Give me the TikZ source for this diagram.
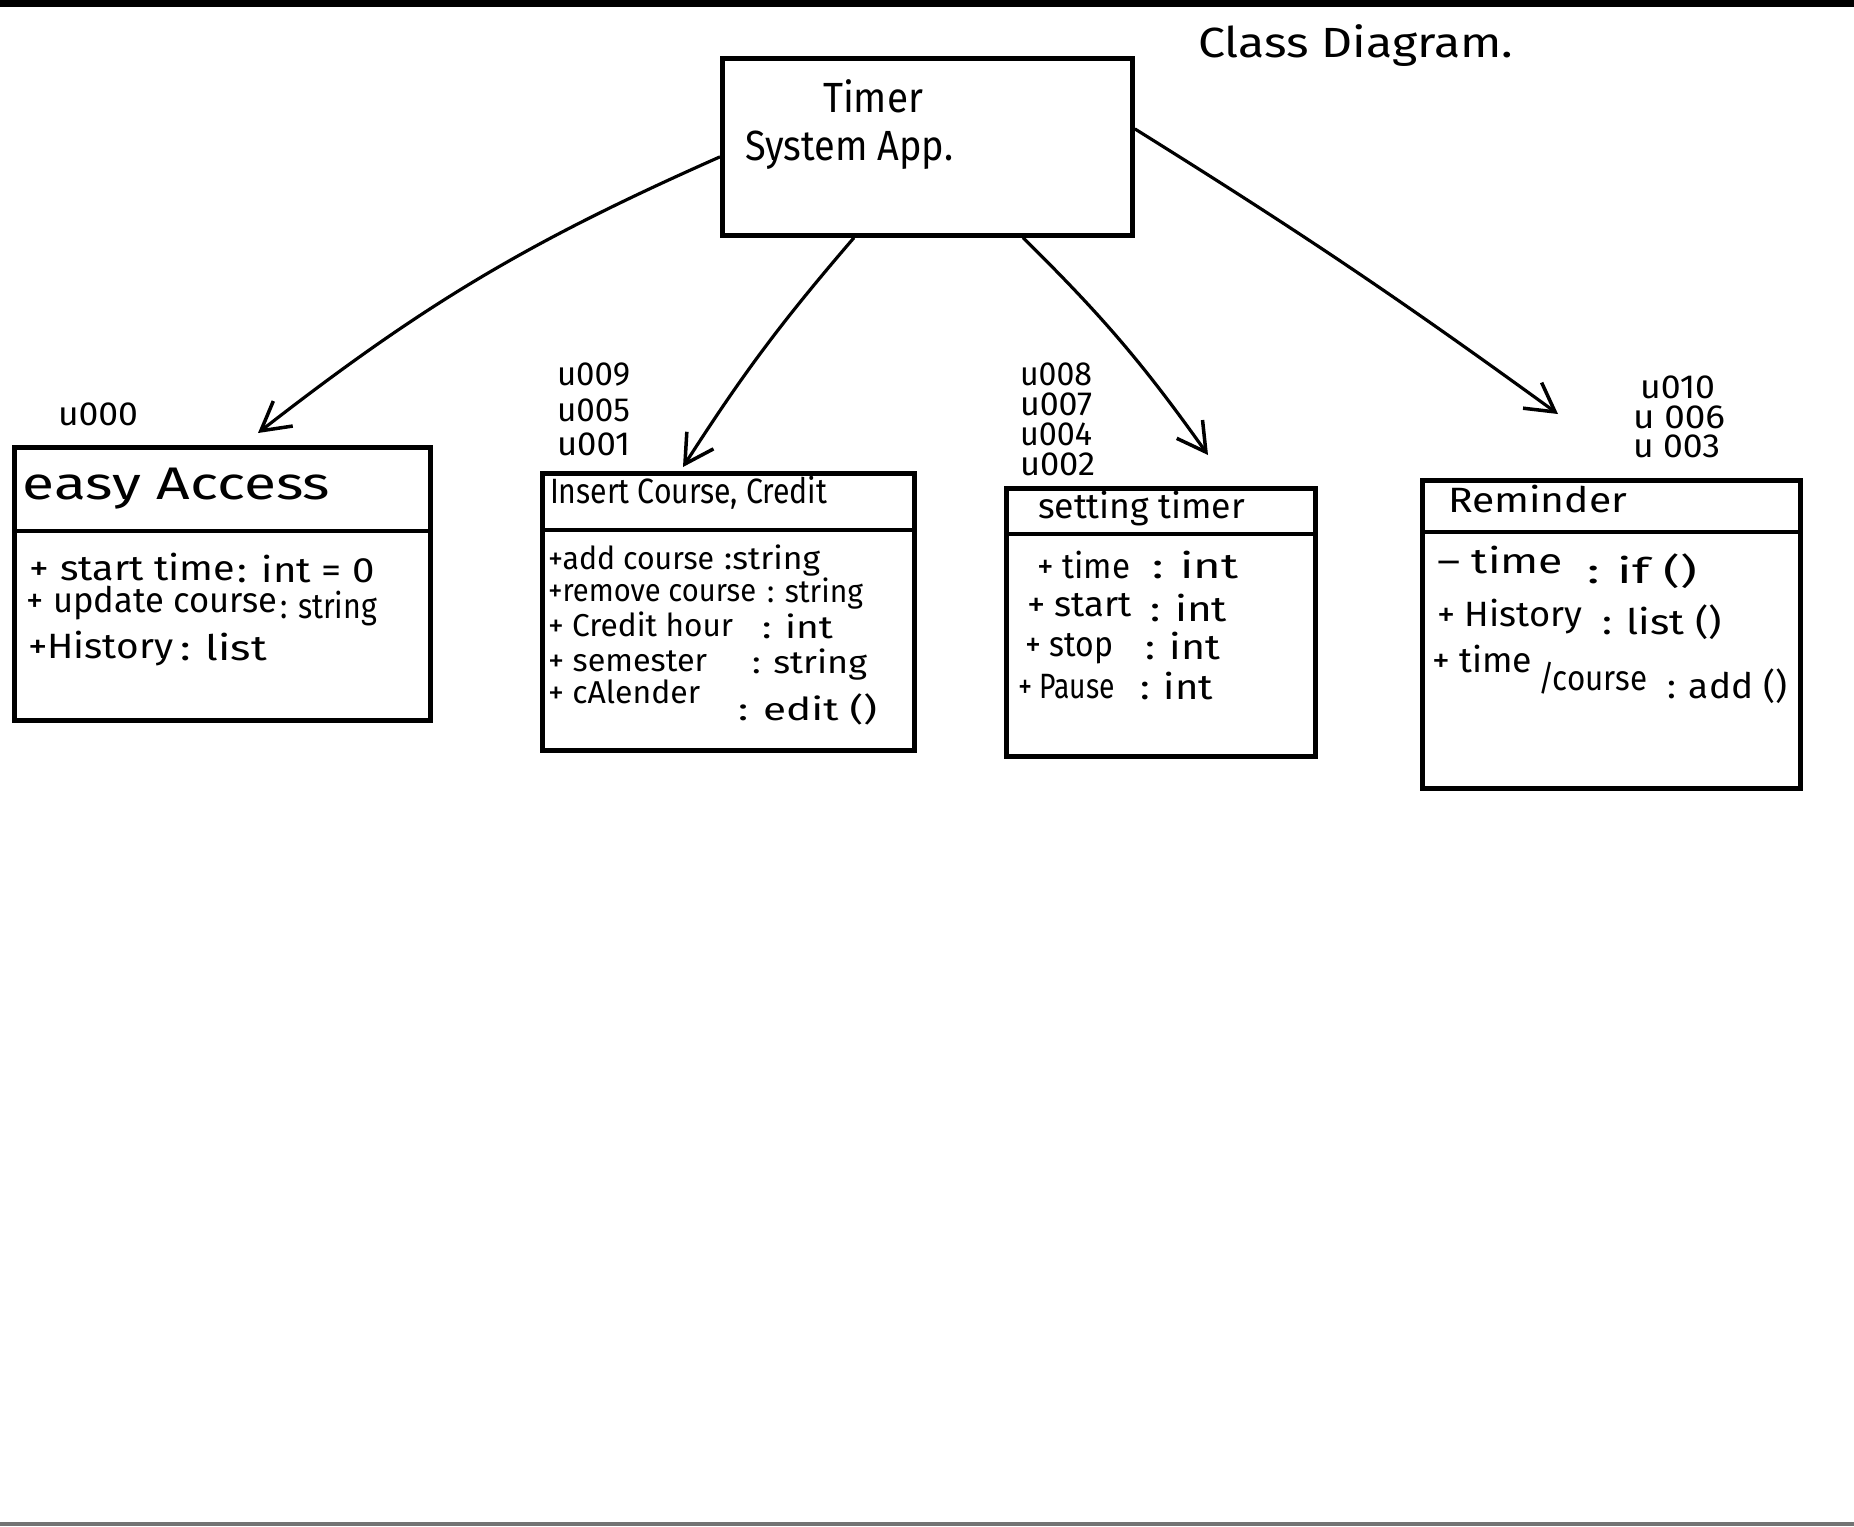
\documentclass[tikz,border=0pt]{standalone}
\usepackage{fontspec}
\usepackage{graphicx}
\setmainfont{Fira Sans}
\usetikzlibrary{arrows.meta,calc}

% set a text and stretch it horizontally to a given width (in px units of 0.01cm)
\newsavebox\fitbox
\newcommand\fitto[2]{%
  \sbox\fitbox{#2}%
  \pgfmathsetmacro\fitratio{#1*0.284528/\wd\fitbox}%
  \scalebox{\fitratio}[1]{\usebox\fitbox}}
% \putlbl[style]{name}{x}{baseline y}{width}{text}
\newcommand\putlbl[6][]{\node[txt,#1] (#2) at (#3,#4) {\fitto{#5}{#6}};}

\tikzset{
  txt/.style={inner sep=0pt, outer sep=0pt, anchor=base west},
  fbig/.style={font=\fontsize{12}{14}\selectfont},
  fmid/.style={font=\fontsize{10}{12}\selectfont},
  fsml/.style={font=\fontsize{9}{11}\selectfont},
  flbl/.style={font=\fontsize{9.5}{11}\selectfont},
  classbox/.style={draw, line width=1.3pt, inner sep=0pt, anchor=north west},
  divline/.style={line width=1.3pt},
  assoc/.style={line width=0.9pt, -{Straight Barb[length=8pt,width=9pt,line width=1pt]}}
}

\begin{document}
\begin{tikzpicture}[x=0.01cm, y=-0.01cm]
\useasboundingbox (0,0) rectangle (1854,1526);
\fill[white] (0,0) rectangle (1854,1526);
% paper edges of the scan
\fill[black] (0,0) rectangle (1854,7);
\fill[black!55] (0,1522) rectangle (1854,1526);

% ---------- class boxes ----------
\node[classbox, minimum width=4.10cm, minimum height=1.77cm] (timer)    at (720,56)  {};
\node[classbox, minimum width=4.16cm, minimum height=2.73cm] (easy)     at (12,445)  {};
\node[classbox, minimum width=3.72cm, minimum height=2.77cm] (insert)   at (540,471) {};
\node[classbox, minimum width=3.09cm, minimum height=2.68cm] (setting)  at (1004,486) {};
\node[classbox, minimum width=3.78cm, minimum height=3.08cm] (reminder) at (1420,478) {};

% compartment dividers
\draw[divline] ($(easy.north west)+(0,86)$) -- ($(easy.north east)+(0,86)$);
\draw[divline] ($(insert.north west)+(0,59)$) -- ($(insert.north east)+(0,59)$);
\draw[divline] ($(setting.north west)+(0,48)$) -- ($(setting.north east)+(0,48)$);
\draw[divline] ($(reminder.north west)+(0,54)$) -- ($(reminder.north east)+(0,54)$);

% ---------- associations ----------
\draw[assoc] ($(timer.west)+(0,10)$) to[bend right=7] ($(easy.north west)+(246,-12)$);
\draw[assoc] ($(timer.south west)+(134,0)$) to[bend right=4] ($(insert.north west)+(143,-4)$);
\draw[assoc] ($(timer.south west)+(303,0)$) to[bend left=5] ($(setting.north west)+(204,-31)$);
\draw[assoc] ($(timer.east)+(0,-18)$) to[bend left=2] ($(reminder.north west)+(138,-64)$);

% ---------- heading ----------
\putlbl[fbig]{heading}{1198}{57}{315}{Class Diagram.}

% ---------- main application ----------
\putlbl[fbig]{timerA}{823}{112}{100}{Timer}
\putlbl[fbig]{timerB}{745}{160}{208}{System App.}

% ---------- easy Access ----------
\putlbl[flbl]{idE}{58}{425}{80}{u000}
\putlbl[font=\fontsize{13}{15}\selectfont]{easyT}{23}{499}{307}{easy Access}
\putlbl[fmid]{easyA1}{30}{580}{205}{+ start time}
\putlbl[fmid]{easyA1t}{238}{582}{137}{: int = 0}
\putlbl[fmid]{easyA2}{27}{612}{250}{+ update course}
\putlbl[fmid]{easyA2t}{280}{618}{97}{: string}
\putlbl[fmid]{easyA3}{28}{658}{145}{+History}
\putlbl[fmid]{easyA3t}{180}{660}{87}{: list}

% ---------- Insert Course, Credit ----------
\putlbl[flbl]{idI1}{557}{385}{73}{u009}
\putlbl[flbl]{idI2}{557}{421}{73}{u005}
\putlbl[flbl]{idI3}{557}{455}{73}{u001}
\putlbl[fmid]{insT}{550}{503}{277}{Insert Course, Credit}
\putlbl[fsml]{insA1}{548}{569}{166}{+add course}
\putlbl[fsml]{insA1t}{724}{569}{96}{:string}
\putlbl[fsml]{insA2}{548}{601}{208}{+remove course}
\putlbl[fsml]{insA2t}{767}{602}{96}{: string}
\putlbl[fsml]{insA3}{548}{636}{185}{+ Credit hour}
\putlbl[fsml]{insA3t}{762}{638}{71}{: int}
\putlbl[fsml]{insA4}{548}{671}{159}{+ semester}
\putlbl[fsml]{insA4t}{752}{673}{115}{: string}
\putlbl[fsml]{insA5}{548}{703}{152}{+ cAlender}
\putlbl[fsml]{insA5t}{738}{720}{139}{: edit ()}

% ---------- setting timer ----------
\putlbl[flbl]{idS1}{1020}{385}{72}{u008}
\putlbl[flbl]{idS2}{1020}{415}{72}{u007}
\putlbl[flbl]{idS3}{1020}{445}{72}{u004}
\putlbl[flbl]{idS4}{1020}{475}{75}{u002}
\putlbl[fmid]{setT}{1038}{518}{207}{setting timer}
\putlbl[fmid]{setA1}{1037}{578}{93}{+ time}
\putlbl[fmid]{setA1t}{1152}{578}{86}{: int}
\putlbl[fmid]{setA2}{1027}{616}{105}{+ start}
\putlbl[fmid]{setA2t}{1150}{621}{77}{: int}
\putlbl[fmid]{setA3}{1025}{656}{88}{+ stop}
\putlbl[fmid]{setA3t}{1145}{659}{75}{: int}
\putlbl[fmid]{setA4}{1018}{698}{97}{+ Pause}
\putlbl[fmid]{setA4t}{1140}{699}{73}{: int}

% ---------- Reminder ----------
\putlbl[flbl]{idR1}{1640}{398}{75}{u010}
\putlbl[flbl]{idR2}{1633}{428}{92}{u 006}
\putlbl[flbl]{idR3}{1633}{457}{87}{u 003}
\putlbl[fmid]{remT}{1448}{512}{179}{Reminder}
\putlbl[fmid]{remA1}{1437}{573}{126}{-- time}
\putlbl[fmid]{remA1t}{1587}{583}{110}{: if ()}
\putlbl[fmid]{remA2}{1437}{626}{145}{+ History}
\putlbl[fmid]{remA2t}{1602}{634}{120}{: list ()}
\putlbl[fmid]{remA3}{1432}{672}{100}{+ time}
\putlbl[fmid]{remA3b}{1538}{690}{109}{/course}
\putlbl[fmid]{remA3t}{1667}{698}{120}{: add ()}
\end{tikzpicture}
\end{document}
